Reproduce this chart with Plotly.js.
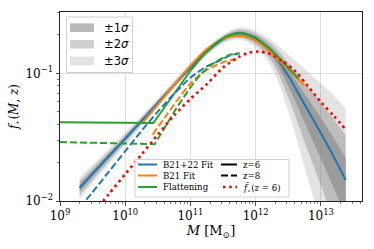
<!DOCTYPE html>
<html><head><meta charset="utf-8">
<script src="https://cdn.plot.ly/plotly-3.0.1.min.js"></script>
<style>html,body{margin:0;padding:0;background:#fff}#chart{width:374px;height:249px}</style>
</head><body><div id="chart"></div>
<script>
// ---------------- data ----------------
const massB22z6 = [2e9, 3.16e9, 5.62e9, 1e10, 1.78e10, 3.16e10, 5.62e10, 1e11, 1.78e11, 3.16e11, 4.47e11, 5.62e11, 7.08e11, 1e12, 1.41e12, 2e12, 3.16e12, 5.62e12, 1e13, 1.58e13, 2.4e13];
const fB22z6 = [0.01271, 0.01637, 0.02249, 0.03083, 0.04246, 0.05861, 0.08091, 0.1109, 0.1479, 0.1854, 0.2009, 0.2056, 0.2032, 0.1871, 0.1641, 0.1365, 0.0955, 0.05689, 0.03388, 0.02213, 0.01459];

const massB21z6 = [1.905e10, 3.16e10, 5.62e10, 1e11, 1.78e11, 3.16e11, 4.47e11, 5.62e11, 7.08e11, 1e12, 1.585e12, 2.34e12, 3.55e12, 5.5e12];
const fB21z6 = [0.04178, 0.05689, 0.08128, 0.1148, 0.1549, 0.1862, 0.1950, 0.1959, 0.1936, 0.1799, 0.1514, 0.1245, 0.1012, 0.08091];

const massFlatZ6 = [1e9, 2.69e10, 3.16e10, 5.62e10, 1e11, 1.585e11, 2.51e11, 3.55e11, 5.01e11, 6.31e11, 1e12, 1.585e12, 2.51e12, 4.47e12];
const fFlatZ6 = [0.0414, 0.04074, 0.04571, 0.06918, 0.1047, 0.1396, 0.1738, 0.1950, 0.2070, 0.2061, 0.1905, 0.1585, 0.1259, 0.0912];

const massB22z8 = [2e9, 3.16e9, 5.62e9, 1e10, 1.78e10, 3.16e10, 5.62e10, 1e11, 1.78e11, 2.82e11, 3.98e11, 5.71e11];
const fB22z8 = [0.008913, 0.01175, 0.01698, 0.02455, 0.03548, 0.05012, 0.06918, 0.09226, 0.1135, 0.1259, 0.1374, 0.1435];

const massB21z8 = [2.63e10, 3.98e10, 6.31e10, 1e11, 1.585e11, 2.51e11, 3.55e11, 5.37e11];
const fB21z8 = [0.03311, 0.04467, 0.06166, 0.08318, 0.1023, 0.1161, 0.1245, 0.1303];

const massFlatZ8 = [1e9, 2.82e10, 3.98e10, 6.31e10, 1e11, 1.41e11, 2e11, 2.82e11, 3.98e11, 5.37e11];
const fFlatZ8 = [0.02897, 0.02786, 0.03715, 0.05495, 0.07762, 0.09772, 0.1148, 0.1288, 0.1396, 0.1435];

const massTilde = [3.98e9, 5.62e9, 1e10, 1.78e10, 3.16e10, 5.62e10, 1e11, 1.78e11, 3.16e11, 5.62e11, 7.94e11, 1.12e12, 1.585e12, 2.51e12, 3.98e12, 6.31e12, 1e13, 1.585e13, 2.4e13];
const fTildeZ6 = [0.00912, 0.01135, 0.01622, 0.02317, 0.03311, 0.04677, 0.0631, 0.08222, 0.1109, 0.1349, 0.1452, 0.1479, 0.1429, 0.1259, 0.1047, 0.07943, 0.05957, 0.04624, 0.03631];

const massBand = [2e9, 3.98e9, 1e10, 3.16e10, 1e11, 3.16e11, 5.62e11, 1e12, 1.78e12, 3.16e12, 5.62e12, 1e13, 1.585e13, 2.4e13];
const band1Lo = [0.01186, 0.01762, 0.02965, 0.05702, 0.1084, 0.1803, 0.1977, 0.1774, 0.1349, 0.07943, 0.04121, 0.02138, 0.01259, 0.007568];
const band1Hi = [0.01349, 0.0195, 0.03192, 0.06026, 0.1135, 0.1905, 0.2128, 0.1959, 0.1578, 0.1072, 0.06918, 0.04467, 0.0309, 0.02158];
const band2Lo = [0.01112, 0.01671, 0.02858, 0.05559, 0.1059, 0.1758, 0.1905, 0.1687, 0.123, 0.06457, 0.02917, 0.01318, 0.006998, 0.003837];
const band2Hi = [0.01432, 0.02046, 0.03304, 0.0618, 0.1161, 0.1954, 0.2203, 0.2051, 0.1679, 0.1202, 0.08414, 0.05888, 0.04365, 0.03266];
const band3Lo = [0.01033, 0.01581, 0.02748, 0.05408, 0.1035, 0.171, 0.1832, 0.1592, 0.1096, 0.05012, 0.01841, 0.006683, 0.002951, 0.001361];
const band3Hi = [0.01528, 0.02158, 0.0342, 0.06353, 0.1189, 0.2009, 0.228, 0.2148, 0.1799, 0.1396, 0.1084, 0.08318, 0.06683, 0.05297];

const xTickVals = [1e9, 1e10, 1e11, 1e12, 1e13];
const xTickText = ['10<sup>9</sup>', '10<sup>10</sup>', '10<sup>11</sup>', '10<sup>12</sup>', '10<sup>13</sup>'];
const yTickVals = [0.01, 0.1];
const yTickText = ['10<sup>\u22122</sup>', '10<sup>\u22121</sup>'];

const bandLabels = ['\u00b11<i>\u03c3</i>', '\u00b12<i>\u03c3</i>', '\u00b13<i>\u03c3</i>'];
const modelLabels = ['B21+22 Fit', 'B21 Fit', 'Flattening'];
const styleLabels = ['z=6', 'z=8', '<i>f\u0303</i><sub>\u22c6</sub>(<i>z</i> = 6)'];

// ---------------- style ----------------
const BLUE = '#1f77b4', ORANGE = '#ff7f0e', GREEN = '#2ca02c', RED = '#ff0000';
const bandFill = ['rgba(128,128,128,0.55)', 'rgba(128,128,128,0.38)', 'rgba(128,128,128,0.22)'];
const DASH = '7px,3px';
const DOT = '2.6px,3.6px';

function bandPair(lo, hi, fill, name) {
  return [
    {x: massBand, y: lo, type: 'scatter', mode: 'lines', line: {width: 0, shape: 'spline'}, hoverinfo: 'skip', showlegend: false},
    {x: massBand, y: hi, type: 'scatter', mode: 'lines', line: {width: 0, shape: 'spline'}, fill: 'tonexty', fillcolor: fill, name: name, showlegend: false}
  ];
}
function line(x, y, color, dash, name, w, shape) {
  return {x: x, y: y, type: 'scatter', mode: 'lines', name: name, showlegend: false,
    line: {color: color, width: w || 2, dash: dash || 'solid', shape: shape || 'spline', smoothing: 0.8}};
}

const traces = [].concat(
  bandPair(band3Lo, band3Hi, bandFill[2], '\u00b13\u03c3'),
  bandPair(band2Lo, band2Hi, bandFill[1], '\u00b12\u03c3'),
  bandPair(band1Lo, band1Hi, bandFill[0], '\u00b11\u03c3'),
  [
    line(massB22z6, fB22z6, BLUE, 'solid', 'B21+22 Fit z=6'),
    line(massB21z6, fB21z6, ORANGE, 'solid', 'B21 Fit z=6'),
    line(massFlatZ6, fFlatZ6, GREEN, 'solid', 'Flattening z=6', 2, 'linear'),
    line(massB22z8, fB22z8, BLUE, DASH, 'B21+22 Fit z=8'),
    line(massB21z8, fB21z8, ORANGE, DASH, 'B21 Fit z=8'),
    line(massFlatZ8, fFlatZ8, GREEN, DASH, 'Flattening z=8', 2, 'linear'),
    line(massTilde, fTildeZ6, RED, DOT, 'f~ z=6', 2.6)
  ]
);

// ---------------- legends (drawn as shapes + text) ----------------
const L = 60, R = 362, T = 12, B = 201;
const X = px => (px - L) / (R - L);
const Y = py => (B - py) / (B - T);
const shapes = [];
const annotations = [];
function rect(x0, y0, x1, y1, fill, lineColor) {
  shapes.push({type: 'rect', xref: 'paper', yref: 'paper', x0: X(x0), x1: X(x1), y0: Y(y1), y1: Y(y0),
    fillcolor: fill, line: {color: lineColor || 'rgba(0,0,0,0)', width: lineColor ? 1 : 0}, layer: 'above'});
}
function seg(x0, x1, y, color, dash, w) {
  shapes.push({type: 'line', xref: 'paper', yref: 'paper', x0: X(x0), x1: X(x1), y0: Y(y), y1: Y(y),
    line: {color: color, width: w || 2, dash: dash || 'solid'}, layer: 'above'});
}
function txt(x, y, text, size, family) {
  annotations.push({xref: 'paper', yref: 'paper', x: X(x), y: Y(y), text: text, showarrow: false,
    xanchor: 'left', yanchor: 'middle', font: {size: size, family: family, color: '#000'}});
}
// sigma legend
rect(66.5, 17, 132.5, 72.5, 'rgba(255,255,255,0.8)', '#d0d0d0');
const sigRows = [27.7, 44.3, 61];
sigRows.forEach((yy, i) => {
  rect(70, yy - 4.3, 94, yy + 4.3, bandFill[i]);
  txt(102, yy, bandLabels[i], 11.5, 'DejaVu Sans');
});
// model / style legend
rect(135, 159.5, 289, 197, 'rgba(255,255,255,0.8)', '#d0d0d0');
const rows = [164.5, 175.5, 187];
const mColors = [BLUE, ORANGE, GREEN];
rows.forEach((yy, i) => {
  seg(138, 157, yy, mColors[i], 'solid', 2);
  txt(161, yy, modelLabels[i], 8.6, 'DejaVu Serif');
});
seg(221, 237, rows[0], '#000', 'solid', 2);
seg(221, 237, rows[1], '#000', DASH, 2);
seg(223, 237, rows[2], RED, DOT, 2.6);
rows.forEach((yy, i) => txt(241, yy + (i === 2 ? 0.5 : 0), styleLabels[i], 8.6, 'DejaVu Serif'));

// minor ticks
const xMinor = [], yMinor = [];
for (let e = 9; e <= 13; e++) for (let m = 2; m <= 9; m++) xMinor.push(m * Math.pow(10, e));
for (let e = -2; e <= -1; e++) for (let m = 2; m <= 9; m++) yMinor.push(m * Math.pow(10, e));

const axisCommon = {
  type: 'log', ticks: 'outside', ticklen: 3.5, tickwidth: 0.8, tickcolor: '#222',
  showline: true, linecolor: '#222', linewidth: 1, mirror: true,
  showgrid: true, gridcolor: '#d4d4d4', gridwidth: 0.8, zeroline: false,
  tickfont: {family: 'DejaVu Serif', size: 12, color: '#000'}
};

const layout = {
  width: 374, height: 249,
  margin: {l: L, r: 374 - R, t: T, b: 249 - B},
  paper_bgcolor: '#fff', plot_bgcolor: '#fff',
  showlegend: false,
  xaxis: Object.assign({}, axisCommon, {
    range: [9, 13.63], tickmode: 'array', tickvals: xTickVals, ticktext: xTickText,
    title: {text: '<i>M</i> [M<sub>\u2299</sub>]', font: {family: 'DejaVu Serif', size: 13, color: '#000'}, standoff: 2},
    minor: {tickmode: 'array', tickvals: xMinor, ticks: 'outside', ticklen: 2, tickwidth: 0.6, tickcolor: '#222', showgrid: false}
  }),
  yaxis: Object.assign({}, axisCommon, {
    range: [-2, -0.52], tickmode: 'array', tickvals: yTickVals, ticktext: yTickText,
    title: {text: '<i>f</i><sub>\u22c6</sub>(<i>M</i>, <i>z</i>)', font: {family: 'DejaVu Serif', size: 12, color: '#000'}, standoff: 4},
    minor: {tickmode: 'array', tickvals: yMinor, ticks: 'outside', ticklen: 2, tickwidth: 0.6, tickcolor: '#222', showgrid: false}
  }),
  shapes: shapes,
  annotations: annotations
};

Plotly.newPlot('chart', traces, layout, {staticPlot: true, displayModeBar: false});
</script>
</body></html>
